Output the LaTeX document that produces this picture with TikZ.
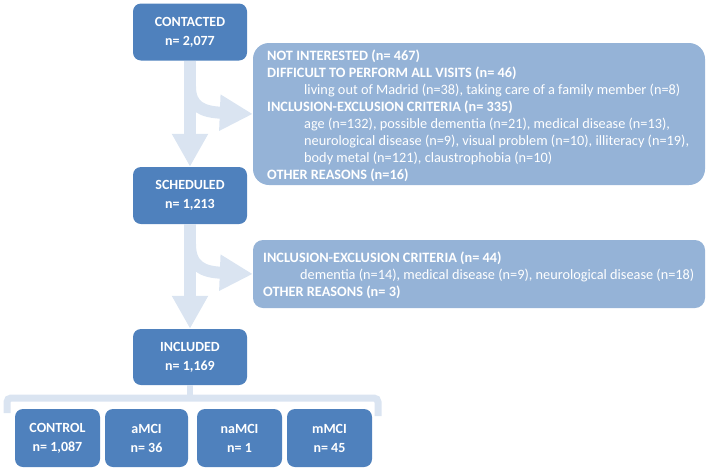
\documentclass[tikz,border=0pt]{standalone}
\usepackage{fontspec}
\setmainfont{Carlito}
\usetikzlibrary{arrows.meta,calc}
\definecolor{darkbox}{HTML}{4F81BD}
\definecolor{lightbox}{HTML}{95B3D7}
\definecolor{arrowcol}{HTML}{DAE4F1}
\tikzset{
  mainbox/.style={rectangle, rounded corners=8pt, fill=darkbox, draw=none, text=white,
    font=\fontsize{14}{19}\selectfont\bfseries, align=center, inner sep=0pt},
  bigbox/.style={rectangle, draw=none, fill=lightbox, inner sep=0pt},
  boxtext/.style={anchor=north west, text=white, inner sep=0pt, align=left,
    font=\fontsize{14.3}{17}\selectfont},
  flow/.style={draw=arrowcol, line width=12pt, -{Triangle[width=34pt,length=33pt]}},
  bracketline/.style={draw=arrowcol, line width=7pt, rounded corners=4pt},
}
\newcommand{\ind}{\hspace*{37pt}}
\begin{document}
\begin{tikzpicture}[x=1pt,y=-1pt]
\useasboundingbox (0,0) rectangle (708,469);

% boxes
\node[mainbox, minimum width=114pt, minimum height=57pt] (c) at (190,32) {CONTACTED\\n= 2,077};
\node[mainbox, minimum width=114pt, minimum height=57pt] (s) at (190,195.5) {SCHEDULED\\n= 1,213};
\node[mainbox, minimum width=114pt, minimum height=56pt] (i) at (190,357) {INCLUDED\\n= 1,169};

\node[bigbox, rounded corners=16pt, minimum width=452pt, minimum height=142pt] (b1) at (479,114) {};
\node[bigbox, rounded corners=10pt, minimum width=452pt, minimum height=68pt] (b2) at (479,274) {};

\node[boxtext] (t1) at (267,48) {\begin{tabular}{@{}l@{}}%
\textbf{NOT INTERESTED (n= 467)}\\
\textbf{DIFFICULT TO PERFORM ALL VISITS (n= 46)}\\
\ind living out of Madrid (n=38), taking care of a family member (n=8)\\
\textbf{INCLUSION-EXCLUSION CRITERIA (n= 335)}\\
\ind age (n=132), possible dementia (n=21), medical disease\ (n=13),\\
\ind neurological disease (n=9), visual problem (n=10), illiteracy (n=19),\\
\ind body metal (n=121), claustrophobia (n=10)\\
\textbf{OTHER REASONS (n=16)}\end{tabular}};

\node[boxtext] (t2) at (263,250) {\begin{tabular}{@{}l@{}}%
\textbf{INCLUSION-EXCLUSION CRITERIA (n= 44)}\\
\ind dementia (n=14), medical disease (n=9), neurological disease (n=18)\\
\textbf{OTHER REASONS (n= 3)}\end{tabular}};

% bottom boxes
\node[mainbox, minimum width=85pt, minimum height=58pt] (g1) at (57.5,438) {CONTROL\\n= 1,087};
\node[mainbox, minimum width=83pt, minimum height=58pt] (g2) at (146.5,438) {aMCI\\n= 36};
\node[mainbox, minimum width=85pt, minimum height=58pt] (g3) at (239.5,438) {naMCI\\n= 1};
\node[mainbox, minimum width=85pt, minimum height=58pt] (g4) at (329.5,438) {mMCI\\n= 45};

% flow arrows
\draw[flow] ($(c.south)+(0,26)$) .. controls ($(c.south)+(0,46)$) and ($(b1.west)+(-50,-2)$) .. (b1.west);
\draw[flow] (c.south) -- (s.north);
\draw[flow] ($(s.south)+(0,20)$) .. controls ($(s.south)+(0,42)$) and ($(b2.west)+(-50,-2)$) .. (b2.west);
\draw[flow] (s.south) -- (i.north);

% bracket
\coordinate (bl) at (7,413);
\coordinate (br) at (378,416);
\draw[bracketline] (bl) -- (7,398) -- (378,398) -- (br);
\draw[draw=arrowcol, line width=6pt] (i.south) -- (190,398);
\end{tikzpicture}
\end{document}
